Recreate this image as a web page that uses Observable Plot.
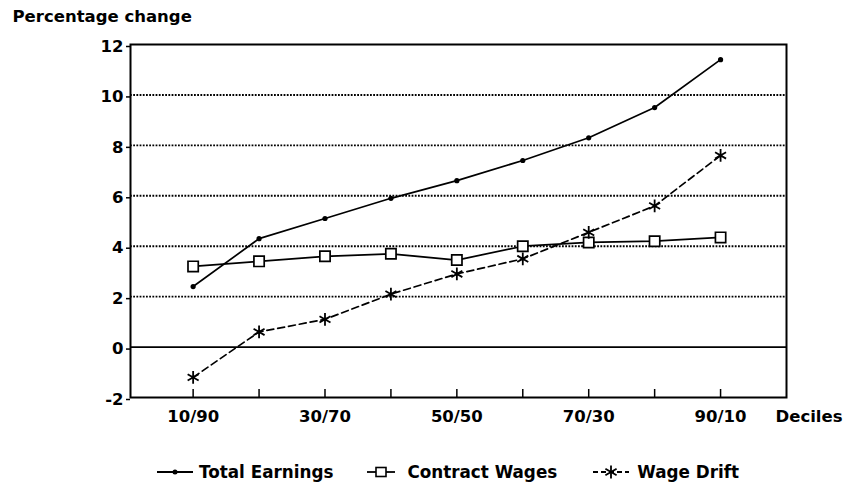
<!DOCTYPE html>
<html>
<head>
<meta charset="utf-8">
<script src="https://cdn.jsdelivr.net/npm/d3@7"></script>
<script src="https://cdn.jsdelivr.net/npm/@observablehq/plot@0.6"></script>
<style>
  html, body { margin: 0; padding: 0; background: #fff; }
  #chart { width: 848px; }
  .legend {
    display: flex; align-items: center; height: 33px; box-sizing: border-box;
    padding-left: 157px; padding-top: 10px;
    font-family: "DejaVu Sans", sans-serif; font-weight: bold; font-size: 16.8px; color: #000;
  }
  .legend .item { display: flex; align-items: center; }
  .legend svg { display: block; }
</style>
</head>
<body>
<div id="chart"></div>
<script>
const categories = ["10/90","20/80","30/70","40/60","50/50","60/40","70/30","80/20","90/10"];
const deciles = [10, 20, 30, 40, 50, 60, 70, 80, 90];
const labelledDeciles = [10, 30, 50, 70, 90];
const totalEarnings = [2.4, 4.3, 5.1, 5.9, 6.6, 7.4, 8.3, 9.5, 11.4];
const contractWages = [3.2, 3.4, 3.6, 3.7, 3.45, 4.0, 4.15, 4.2, 4.35];
const wageDrift = [-1.2, 0.6, 1.1, 2.1, 2.9, 3.5, 4.55, 5.6, 7.6];
const yTicks = [-2, 0, 2, 4, 6, 8, 10, 12];
const gridValues = [2, 4, 6, 8, 10];
const seriesNames = ["Total Earnings", "Contract Wages", "Wage Drift"];

const labelOf = (d) => categories[deciles.indexOf(d)];
const toRows = (vals) => deciles.map((d, i) => ({decile: d, value: vals[i]}));
const te = toRows(totalEarnings), cw = toRows(contractWages), wd = toRows(wageDrift);

const chart = Plot.plot({
  width: 848,
  height: 450,
  marginLeft: 130,
  marginRight: 62,
  marginTop: 44,
  marginBottom: 53,
  style: {fontFamily: "DejaVu Sans, sans-serif", fontWeight: "bold", fontSize: "16.5px", color: "black", background: "white"},
  x: {domain: [0.5, 100]},
  y: {domain: [-2, 12]},
  marks: [
    Plot.ruleY(gridValues, {stroke: "black", strokeWidth: 1.9, strokeDasharray: "1.8,1.4"}),
    Plot.ruleY([0], {stroke: "black", strokeWidth: 1.7}),
    Plot.frame({stroke: "black", strokeWidth: 2}),
    Plot.axisY({ticks: yTicks, tickSize: 4, tickPadding: 3, label: null, strokeWidth: 1.5, dy: 2, tickFormat: d => String(d)}),
    Plot.axisX({ticks: deciles, tickSize: 8, dy: -8, tickFormat: () => "", label: null, strokeWidth: 1.5}),
    Plot.axisX({ticks: labelledDeciles, tickSize: 0, tickPadding: 13, label: null, tickFormat: labelOf}),
    Plot.text(["Deciles"], {text: d => d, frameAnchor: "bottom-right", dx: -11, dy: 13, textAnchor: "start", lineAnchor: "top"}),
    Plot.text(["Percentage change"], {text: d => d, frameAnchor: "top-left", dx: -118, dy: -23, textAnchor: "start", lineAnchor: "bottom"}),
    Plot.line(te, {x: "decile", y: "value", stroke: "black", strokeWidth: 1.7}),
    Plot.dot(te, {x: "decile", y: "value", r: 2.6, fill: "black"}),
    Plot.line(cw, {x: "decile", y: "value", stroke: "black", strokeWidth: 1.7}),
    Plot.dot(cw, {x: "decile", y: "value", symbol: "square", r: 5.8, fill: "white", stroke: "black", strokeWidth: 1.7}),
    Plot.line(wd, {x: "decile", y: "value", stroke: "black", strokeWidth: 1.7, strokeDasharray: "7,4"}),
    Plot.dot(wd, {x: "decile", y: "value", symbol: "asterisk", r: 6, stroke: "black", strokeWidth: 1.8})
  ]
});
document.getElementById("chart").appendChild(chart);

// Legend
const legend = document.createElement("div");
legend.className = "legend";
const swatches = [
  `<svg width="36" height="14" style="margin-right:6px"><line x1="0" y1="7" x2="36" y2="7" stroke="black" stroke-width="1.8"/><circle cx="18" cy="7" r="2.5" fill="black"/></svg>`,
  `<svg width="28" height="14" style="margin-right:12px"><line x1="0" y1="7" x2="28" y2="7" stroke="black" stroke-width="1.8"/><rect x="9" y="2.5" width="10" height="9" fill="white" stroke="black" stroke-width="1.6"/></svg>`,
  `<svg width="36" height="14" style="margin-right:8px"><line x1="0" y1="7" x2="36" y2="7" stroke="black" stroke-width="1.8" stroke-dasharray="5,3"/><g stroke="black" stroke-width="1.8"><line x1="18" y1="0.5" x2="18" y2="13.5"/><line x1="12.4" y1="3.7" x2="23.6" y2="10.3"/><line x1="12.4" y1="10.3" x2="23.6" y2="3.7"/></g></svg>`
];
const gaps = [34, 36, 0];
seriesNames.forEach((name, i) => {
  const item = document.createElement("div");
  item.className = "item";
  item.style.marginRight = gaps[i] + "px";
  item.innerHTML = swatches[i] + `<span>${name}</span>`;
  legend.appendChild(item);
});
document.body.appendChild(legend);
</script>
</body>
</html>
